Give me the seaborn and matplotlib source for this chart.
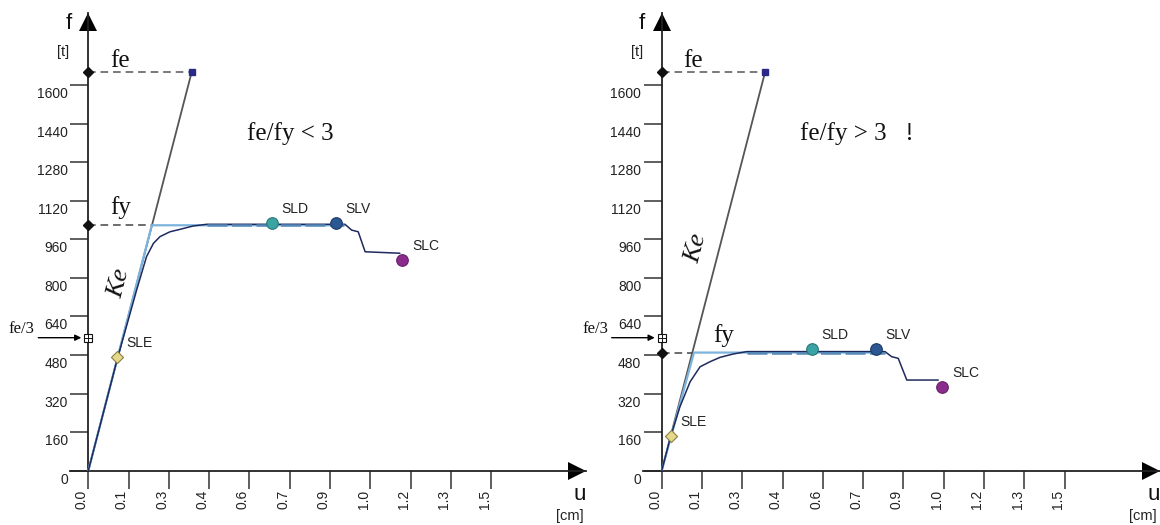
import math
import matplotlib
matplotlib.use("Agg")
import matplotlib.pyplot as plt
import matplotlib.transforms as mtransforms
import pandas as pd
import seaborn as sns

# ---------------- data ----------------
x_tick_step = 0.146
x_tick_labels = ["0.0", "0.1", "0.3", "0.4", "0.6", "0.7", "0.9", "1.0", "1.2", "1.3", "1.5"]
y_tick_values = [0, 160, 320, 480, 640, 800, 960, 1120, 1280, 1440, 1600]

panel_titles = ["fe/fy < 3", "fe/fy > 3   !"]
fe_values = [1655, 1655]
u_fe_values = [0.375, 0.375]
fy_values = [1018, 490]
u_yield_values = [0.230, 0.117]
u_bilinear_end = [0.925, 0.81]
u_plateau_start = [0.43, 0.308]

curve_u_left = [0, 0.105, 0.175, 0.211, 0.236, 0.26, 0.296, 0.332, 0.38, 0.429,
                0.93, 0.954, 0.978, 1.003, 1.129]
curve_f_left = [0, 463, 749, 888, 943, 971, 991, 1001, 1015, 1022,
                1022, 998, 991, 908, 902]
curve_u_right = [0, 0.033, 0.066, 0.103, 0.139, 0.175, 0.211, 0.259, 0.308,
                 0.809, 0.833, 0.857, 0.888, 1.002]
curve_f_right = [0, 144, 265, 369, 431, 452, 470, 484, 494,
                 494, 473, 466, 376, 376]

state_names = ["SLE", "SLD", "SLV", "SLC"]
state_u_left = [0.105, 0.664, 0.897, 1.138]
state_f_left = [473, 1029, 1029, 874]
state_u_right = [0.033, 0.543, 0.776, 1.017]
state_f_right = [144, 503, 503, 348]

# ---------------- styling / layout ----------------
sns.set_theme(style="white")
plt.rcParams["font.family"] = ["Liberation Sans", "DejaVu Sans"]
SERIF = ["Liberation Serif", "DejaVu Serif"]

FIG_W, FIG_H = 1160, 525
fig = plt.figure(figsize=(FIG_W / 100, FIG_H / 100), dpi=100)
fig.patch.set_facecolor("white")

PX_PER_CM = 276.0
PX_PER_T = 0.2411
AXIS_X_PX = [88.3, 661.7]
XAXIS_Y_PX = 470.7
TOP_PX = 13.0
XMIN, XMAX = -0.066, 1.805
YMAX = (XAXIS_Y_PX - TOP_PX) / PX_PER_T

state_styles = {
    "SLE": dict(marker="D", s=38, color="#e4d98a", edgecolor="#8c8040"),
    "SLD": dict(marker="o", s=70, color="#3aa3a3", edgecolor="#2a7777"),
    "SLV": dict(marker="o", s=70, color="#2b5892", edgecolor="#1b3a66"),
    "SLC": dict(marker="o", s=70, color="#8b2c8d", edgecolor="#65206a"),
}

title_pos = [(0.574, 1372), (0.501, 1372)]
fy_anchor = ["axis", "corner"]
fy_offset = [(21.7, 11), (19.3, 11)]
ke_text_f = [778, 924]
ke_text_dx = [-18, -23]

curves = [(curve_u_left, curve_f_left), (curve_u_right, curve_f_right)]
states = [(state_u_left, state_f_left), (state_u_right, state_f_right)]


def off(trans, dx, dy):
    return mtransforms.offset_copy(trans, fig=fig, x=dx, y=dy, units="dots")


AXC = "#222222"

for i in range(2):
    left = (AXIS_X_PX[i] + XMIN * PX_PER_CM) / FIG_W
    width = (XMAX - XMIN) * PX_PER_CM / FIG_W
    bottom = (FIG_H - XAXIS_Y_PX) / FIG_H
    height = (XAXIS_Y_PX - TOP_PX) / FIG_H
    ax = fig.add_axes([left, bottom, width, height])
    ax.set_facecolor("white")
    ax.set_xlim(XMIN, XMAX)
    ax.set_ylim(0, YMAX)

    for sp in ["top", "right"]:
        ax.spines[sp].set_visible(False)
    ax.spines["left"].set_position(("data", 0))
    for sp in ["left", "bottom"]:
        ax.spines[sp].set_color(AXC)
        ax.spines[sp].set_linewidth(1.3)

    xt = [k * x_tick_step for k in range(len(x_tick_labels))]
    ax.set_xticks(xt)
    ax.set_xticklabels([])
    ax.set_yticks(y_tick_values)
    ax.set_yticklabels([])
    ax.tick_params(axis="both", direction="out", length=13, width=1.1,
                   color="#333333", bottom=True, left=True)
    ax.grid(False)

    for k, lbl in enumerate(x_tick_labels):
        ax.text(xt[k], 0, lbl, transform=off(ax.transData, -6.6, -19.5),
                rotation=90, ha="center", va="top", fontsize=10, color="#222222")
    for v in y_tick_values:
        ax.text(0, v, str(v), transform=off(ax.transData, -20.5, -9),
                ha="right", va="center", fontsize=10, color="#222222")

    # axis arrows
    ax.plot([1], [0], marker=">", markersize=13, color="black", markeredgewidth=0,
            transform=off(ax.get_yaxis_transform(), -9, 0), clip_on=False)
    ax.plot([0], [1], marker="^", markersize=13, color="black", markeredgewidth=0,
            transform=off(ax.get_xaxis_transform(), 0, -9), clip_on=False)

    # axis names
    ax.text(0, 1, "f", transform=off(ax.get_xaxis_transform(), -20, -10.3),
            ha="center", va="center", fontsize=16, color="#111111")
    ax.text(0, 1, "[t]", transform=off(ax.get_xaxis_transform(), -25, -38.7),
            ha="center", va="center", fontsize=10.5, color="#222222")
    ax.text(1, 0, "u", transform=off(ax.get_yaxis_transform(), -6.6, -24.3),
            ha="center", va="center", fontsize=16, color="#111111")
    ax.text(1, 0, "[cm]", transform=off(ax.get_yaxis_transform(), -16.6, -45.3),
            ha="center", va="center", fontsize=10.5, color="#222222")

    fe, ufe, fy, uy = fe_values[i], u_fe_values[i], fy_values[i], u_yield_values[i]
    cu, cf = curves[i]
    su, sf = states[i]

    # Ke line (elastic stiffness)
    sns.lineplot(x=[0, ufe], y=[0, fe], ax=ax, color="#555555", linewidth=1.3,
                 sort=False, estimator=None, legend=False, zorder=2)
    # reference dashed lines fe, fy
    ax.plot([0, ufe], [fe, fe], color="#555555", linewidth=1.1,
            linestyle=(0, (5, 3.2)), zorder=2)
    ax.plot([0, uy], [fy, fy], color="#444444", linewidth=1.1,
            linestyle=(0, (5, 3.2)), zorder=2)
    ax.plot([0, 0], [fe, fy], linestyle="none", marker="D", markersize=5,
            color="#111111", zorder=6, clip_on=False)
    ax.plot([ufe], [fe], linestyle="none", marker="s", markersize=5,
            color="#2a2a86", zorder=6)

    # bilinear equivalent
    sns.lineplot(x=[0, uy, u_bilinear_end[i]], y=[0, fy, fy], ax=ax,
                 color="#7db4de", linewidth=1.6, sort=False, estimator=None,
                 legend=False, zorder=3)
    # capacity curve
    sns.lineplot(x=cu, y=cf, ax=ax, color="#1e2a5e", linewidth=1.1, sort=False,
                 estimator=None, legend=False, zorder=4)
    # dashed plateau of the bilinear over the curve
    ax.plot([u_plateau_start[i], u_bilinear_end[i]], [fy, fy], color="#5688b8",
            linewidth=1.8, linestyle=(0, (8, 1.8)), zorder=5)

    # fe/3 marker and arrow
    fe3 = fe / 3
    ax.plot([0], [fe3], marker="s", markersize=6, markerfacecolor="white",
            markeredgecolor="#111111", markeredgewidth=0.8, linestyle="none",
            zorder=6, clip_on=False)
    ax.plot([0], [fe3], marker="+", markersize=5.5, color="#111111",
            markeredgewidth=0.7, linestyle="none", zorder=7, clip_on=False)
    ax.annotate("", xy=(0, fe3), xycoords=off(ax.transData, -7, 0),
                xytext=(0, fe3), textcoords=off(ax.transData, -50, 0),
                arrowprops=dict(arrowstyle="-|>", color="black", lw=1.0,
                                mutation_scale=9, shrinkA=0, shrinkB=0),
                annotation_clip=False)
    ax.text(0, fe3, "fe/3", transform=off(ax.transData, -66.6, 4.5),
            ha="center", va="baseline", fontsize=12, family=SERIF, color="#111111")

    # state markers
    df = pd.DataFrame({"u": su, "f": sf, "state": state_names})
    for _, row in df.iterrows():
        st = state_styles[row["state"]]
        sns.scatterplot(x=[row["u"]], y=[row["f"]], ax=ax, marker=st["marker"],
                        s=st["s"], color=st["color"], edgecolor=st["edgecolor"],
                        linewidth=0.8, zorder=8, legend=False)
        ax.text(row["u"], row["f"], row["state"], transform=off(ax.transData, 9.5, 14),
                ha="left", va="center", fontsize=10, color="#222222")

    # serif annotations
    ax.text(0, fe, "fe", transform=off(ax.transData, 21.7, 5),
            ha="left", va="baseline", fontsize=18, family=SERIF, color="#111111")
    fy_x = 0 if fy_anchor[i] == "axis" else uy
    ax.text(fy_x, fy, "fy", transform=off(ax.transData, fy_offset[i][0], fy_offset[i][1]),
            ha="left", va="baseline", fontsize=18, family=SERIF, color="#111111")
    ax.text(title_pos[i][0], title_pos[i][1], panel_titles[i], ha="left", va="baseline",
            fontsize=18, family=SERIF, color="#111111")

    p0 = ax.transData.transform((0, 0))
    p1 = ax.transData.transform((ufe, fe))
    ang = math.degrees(math.atan2(p1[1] - p0[1], p1[0] - p0[0]))
    kf = ke_text_f[i]
    ax.text(kf * ufe / fe, kf, "Ke", transform=off(ax.transData, ke_text_dx[i], 0),
            rotation=ang, rotation_mode="anchor", ha="center", va="center",
            fontsize=19, family=SERIF, style="italic", color="#111111")

fig.savefig("out.png", dpi=100, facecolor="white")
